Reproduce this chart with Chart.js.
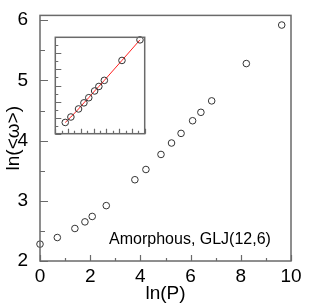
<!DOCTYPE html>
<html><head><meta charset="utf-8">
<script src="https://cdn.jsdelivr.net/npm/chart.js@4"></script>
<style>
html,body{margin:0;padding:0;background:#fff;}
#wrap{position:relative;width:310px;height:308px;}
#main{position:absolute;left:0;top:0;}
#inset{position:absolute;left:51px;top:33px;}
</style></head>
<body><div id="wrap"><canvas id="main" width="310" height="308"></canvas><canvas id="inset" width="98" height="105"></canvas></div>
<script>
// ---- data ----
const lnP = [0, 0.69, 1.39, 1.79, 2.08, 2.64, 3.78, 4.22, 4.82, 5.24, 5.62, 6.08, 6.41, 6.84, 8.22, 9.63];
const lnW = [2.28, 2.39, 2.54, 2.65, 2.74, 2.92, 3.35, 3.52, 3.77, 3.96, 4.12, 4.33, 4.47, 4.66, 5.28, 5.92];
const xTicksMain = [0, 2, 4, 6, 8, 10];
const yTicksMain = [2, 3, 4, 5, 6];
const insetLnP = lnP.slice(6);
const insetLnW = lnW.slice(6);
const xTitle = 'ln(P)';
const yTitle = 'ln(<ω>)';
const annotation = 'Amorphous, GLJ(12,6)';

const FONT = "'Liberation Sans', Arial, Helvetica, sans-serif";
const FRAME = '#6a6a6a';
const PT = '#333333';

function toXY(xs, ys){ return xs.map((x,i)=>({x:x, y:ys[i]})); }

function drawTicks(chart, cfg){
  const ctx = chart.ctx, a = chart.chartArea;
  const xs = chart.scales.x, ys = chart.scales.y;
  ctx.save();
  ctx.strokeStyle = FRAME; ctx.lineWidth = 1.2;
  ctx.beginPath();
  for (let v = cfg.x0; v <= cfg.x1 + 1e-9; v += cfg.xMinor){
    const px = Math.round(xs.getPixelForValue(v)) + 0.5;
    const major = Math.abs(v / cfg.xMajor - Math.round(v / cfg.xMajor)) < 1e-6;
    const len = major ? cfg.xMajLen : cfg.xMinLen;
    ctx.moveTo(px, a.bottom); ctx.lineTo(px, a.bottom - len);
  }
  for (let v = cfg.y0; v <= cfg.y1 + 1e-9; v += cfg.yMinor){
    const py = Math.round(ys.getPixelForValue(v)) + 0.5;
    const major = Math.abs(v / cfg.yMajor - Math.round(v / cfg.yMajor)) < 1e-6;
    const len = major ? cfg.yMajLen : cfg.yMinLen;
    ctx.moveTo(a.left, py); ctx.lineTo(a.left + len, py);
  }
  ctx.stroke();
  ctx.lineWidth = 1.5;
  ctx.strokeRect(a.left, a.top, a.right - a.left, a.bottom - a.top);
  ctx.restore();
}

const mainPlugin = {
  id: 'mainDeco',
  afterDraw(chart){
    drawTicks(chart, {x0:0, x1:10, xMinor:1, xMajor:2, xMajLen:6, xMinLen:3,
                      y0:2, y1:6, yMinor:0.5, yMajor:1, yMajLen:8, yMinLen:5});
    const ctx = chart.ctx;
    ctx.save();
    ctx.font = '16px ' + FONT;
    ctx.fillStyle = '#000';
    ctx.textAlign = 'right';
    ctx.textBaseline = 'alphabetic';
    ctx.fillText(annotation, chart.scales.x.getPixelForValue(9.2), chart.scales.y.getPixelForValue(2.28));
    ctx.restore();
  }
};

new Chart(document.getElementById('main'), {
  type: 'scatter',
  data: { datasets: [{
    data: toXY(lnP, lnW),
    pointRadius: 3.3, pointHoverRadius: 3.3,
    pointBorderWidth: 1, pointBorderColor: PT,
    pointBackgroundColor: 'rgba(0,0,0,0)',
    showLine: false, clip: false
  }]},
  options: {
    responsive: false, devicePixelRatio: 1, animation: false,
    layout: { padding: { top: 10, right: 19, left: 0, bottom: 0 } },
    plugins: { legend: { display: false }, tooltip: { enabled: false } },
    scales: {
      x: {
        type: 'linear', min: 0, max: 10,
        afterBuildTicks: s => { s.ticks = xTicksMain.map(v => ({ value: v })); },
        afterFit: s => { s.height = 47; },
        grid: { display: false }, border: { display: false },
        ticks: { font: { family: FONT, size: 19 }, color: '#000', padding: -4, maxRotation: 0, autoSkip: false },
        title: { display: true, text: xTitle, font: { family: FONT, size: 19 }, color: '#000', padding: { top: 0, bottom: 3 } }
      },
      y: {
        type: 'linear', min: 2, max: 6.08,
        afterBuildTicks: s => { s.ticks = yTicksMain.map(v => ({ value: v })); },
        afterFit: s => { s.width = 40; },
        grid: { display: false }, border: { display: false },
        ticks: { font: { family: FONT, size: 19 }, color: '#000', padding: 4, autoSkip: false },
        title: { display: true, text: yTitle, font: { family: FONT, size: 19 }, color: '#000', padding: { top: 2, bottom: 0 } }
      }
    }
  },
  plugins: [mainPlugin]
});

const insetPlugin = {
  id: 'insetDeco',
  beforeDraw(chart){
    const ctx = chart.ctx, a = chart.chartArea;
    ctx.save(); ctx.fillStyle = '#fff';
    ctx.fillRect(a.left, a.top, a.right - a.left, a.bottom - a.top);
    ctx.restore();
  },
  afterDraw(chart){
    drawTicks(chart, {x0:3, x1:10, xMinor:0.5, xMajor:1, xMajLen:5, xMinLen:3,
                      y0:3, y1:6, yMinor:0.25, yMajor:0.5, yMajLen:6, yMinLen:3});
  }
};

new Chart(document.getElementById('inset'), {
  type: 'scatter',
  data: { datasets: [{
    data: toXY(insetLnP, insetLnW),
    showLine: true, borderColor: '#ff2020', borderWidth: 1,
    pointRadius: 3.3, pointHoverRadius: 3.3,
    pointBorderWidth: 1, pointBorderColor: PT,
    pointBackgroundColor: 'rgba(0,0,0,0)', clip: false
  }]},
  options: {
    responsive: false, devicePixelRatio: 1, animation: false,
    layout: { padding: 1 },
    plugins: { legend: { display: false }, tooltip: { enabled: false } },
    scales: {
      x: { type: 'linear', min: 3, max: 10, display: false },
      y: { type: 'linear', min: 3, max: 6, display: false }
    }
  },
  plugins: [insetPlugin]
});
</script>
</body></html>
